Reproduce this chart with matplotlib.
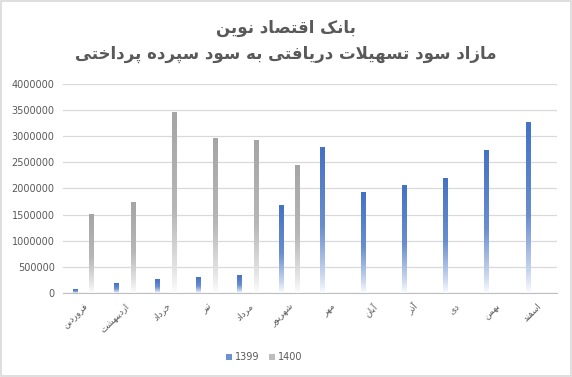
import matplotlib
matplotlib.use('Agg')
import matplotlib.pyplot as plt
import matplotlib.colors as mcolors
from matplotlib.patches import Rectangle
import numpy as np

# Persian month labels and yearly values
months = ['فروردین', 'اردیبهشت', 'خرداد', 'تیر', 'مرداد', 'شهریور',
          'مهر', 'آبان', 'آذر', 'دی', 'بهمن', 'اسفند']
values_1399 = [60000, 180000, 250000, 290000, 330000, 1670000,
               2780000, 1920000, 2050000, 2200000, 2720000, 3270000]
values_1400 = [1500000, 1730000, 3465000, 2950000, 2930000, 2450000,
               0, 0, 0, 0, 0, 0]
series_names = ['1399', '1400']
title_line1 = 'بانک اقتصاد نوین'
title_line2 = 'مازاد سود تسهیلات دریافتی به سود سپرده پرداختی'

# minimal Arabic/Persian shaping (matplotlib has no complex text layout)
# forms: isolated, final, initial, medial
FORMS = {
    'ا': (0xFE8D, 0xFE8E), 'آ': (0xFE81, 0xFE82),
    'ب': (0xFE8F, 0xFE90, 0xFE91, 0xFE92), 'پ': (0xFB56, 0xFB57, 0xFB58, 0xFB59),
    'ت': (0xFE95, 0xFE96, 0xFE97, 0xFE98), 'ث': (0xFE99, 0xFE9A, 0xFE9B, 0xFE9C),
    'ج': (0xFE9D, 0xFE9E, 0xFE9F, 0xFEA0), 'ح': (0xFEA1, 0xFEA2, 0xFEA3, 0xFEA4),
    'خ': (0xFEA5, 0xFEA6, 0xFEA7, 0xFEA8),
    'د': (0xFEA9, 0xFEAA), 'ذ': (0xFEAB, 0xFEAC), 'ر': (0xFEAD, 0xFEAE),
    'ز': (0xFEAF, 0xFEB0), 'ژ': (0xFB8A, 0xFB8B),
    'س': (0xFEB1, 0xFEB2, 0xFEB3, 0xFEB4), 'ش': (0xFEB5, 0xFEB6, 0xFEB7, 0xFEB8),
    'ص': (0xFEB9, 0xFEBA, 0xFEBB, 0xFEBC), 'ض': (0xFEBD, 0xFEBE, 0xFEBF, 0xFEC0),
    'ط': (0xFEC1, 0xFEC2, 0xFEC3, 0xFEC4), 'ظ': (0xFEC5, 0xFEC6, 0xFEC7, 0xFEC8),
    'ع': (0xFEC9, 0xFECA, 0xFECB, 0xFECC), 'غ': (0xFECD, 0xFECE, 0xFECF, 0xFED0),
    'ف': (0xFED1, 0xFED2, 0xFED3, 0xFED4), 'ق': (0xFED5, 0xFED6, 0xFED7, 0xFED8),
    'ک': (0xFB8E, 0xFB8F, 0xFB90, 0xFB91), 'گ': (0xFB92, 0xFB93, 0xFB94, 0xFB95),
    'ل': (0xFEDD, 0xFEDE, 0xFEDF, 0xFEE0), 'م': (0xFEE1, 0xFEE2, 0xFEE3, 0xFEE4),
    'ن': (0xFEE5, 0xFEE6, 0xFEE7, 0xFEE8), 'ه': (0xFEE9, 0xFEEA, 0xFEEB, 0xFEEC),
    'و': (0xFEED, 0xFEEE), 'ی': (0xFBFC, 0xFBFD, 0xFBFE, 0xFBFF),
}


def shape(text):
    # merge lam + alef into ligature placeholder
    chars = []
    i = 0
    while i < len(text):
        if text[i] == 'ل' and i + 1 < len(text) and text[i + 1] == 'ا':
            chars.append('LA')
            i += 2
        else:
            chars.append(text[i])
            i += 1

    def dual(c):
        return c in FORMS and len(FORMS[c]) == 4

    def joins(c):
        return c in FORMS or c == 'LA'

    out = []
    for k, c in enumerate(chars):
        prev = chars[k - 1] if k > 0 else None
        nxt = chars[k + 1] if k + 1 < len(chars) else None
        jp = prev is not None and dual(prev) and joins(c)
        if c == 'LA':
            out.append(chr(0xFEFC if jp else 0xFEFB))
            continue
        if c not in FORMS:
            out.append(c)
            continue
        f = FORMS[c]
        jn = dual(c) and nxt is not None and joins(nxt)
        if jp and jn:
            out.append(chr(f[3]))
        elif jp:
            out.append(chr(f[1]))
        elif jn:
            out.append(chr(f[2]))
        else:
            out.append(chr(f[0]))
    return ''.join(reversed(out))


plt.rcParams['font.family'] = ['DejaVu Sans']
text_color = '#595959'
colors = ['#4472C4', '#A5A5A5']

fig = plt.figure(figsize=(5.72, 3.77), dpi=100)
fig.patches.append(Rectangle((0.002, 0.003), 0.996, 0.994, transform=fig.transFigure,
                             fill=False, edgecolor='#D9D9D9', linewidth=1.2))
ax = fig.add_axes([0.110, 0.223, 0.864, 0.554])

index = np.arange(len(months))
bar_width = 0.12
offset = 0.205
series = [values_1399, values_1400]

# gradient: white at the bottom to solid at the top
grad_pos = [0.0, 0.12, 0.45, 1.0]
grad_mix = [0.03, 0.28, 0.8, 1.0]
ny = 200
mix = np.interp(np.linspace(0, 1, ny), grad_pos, grad_mix)

for s, (vals, col) in enumerate(zip(series, colors)):
    pos = index - offset if s == 0 else index + offset
    bars = ax.bar(pos, vals, bar_width, color='none', edgecolor='none',
                  label=series_names[s])
    rgb = np.array(mcolors.to_rgb(col))
    img = (1 - mix[:, None]) * np.ones(3) + mix[:, None] * rgb
    img = img[:, None, :]
    for b in bars:
        h = b.get_height()
        if h <= 0:
            continue
        ax.imshow(img, extent=(b.get_x(), b.get_x() + b.get_width(), 0, h),
                  origin='lower', aspect='auto', interpolation='bilinear', zorder=3)

ax.set_xlim(-0.5, len(months) - 0.5)
ax.set_ylim(0, 4000000)
ax.set_yticks(np.arange(0, 4000001, 500000))
ax.set_yticklabels([str(v) for v in range(0, 4000001, 500000)])
ax.set_xticks(index)
ax.set_xticklabels([shape(m) for m in months], rotation=45, ha='right',
                   rotation_mode='anchor', fontsize=6.5, color=text_color)
ax.tick_params(axis='y', length=0, labelsize=7, labelcolor=text_color, pad=6)
ax.tick_params(axis='x', length=0, pad=6)
ax.grid(True, axis='y', color='#D9D9D9', linewidth=0.9)
ax.set_axisbelow(True)
for side in ['top', 'right', 'left']:
    ax.spines[side].set_visible(False)
ax.spines['bottom'].set_color('#BFBFBF')

fig.text(0.5, 0.925, shape(title_line1), ha='center', va='center',
         fontsize=12, fontweight='bold', color=text_color)
fig.text(0.5, 0.856, shape(title_line2), ha='center', va='center',
         fontsize=12, fontweight='bold', color=text_color)

handles = [Rectangle((0, 0), 1, 1, facecolor=c, edgecolor='none') for c in ['#6F91CF', '#BDBDBD']]
fig.legend(handles, series_names, loc='center', bbox_to_anchor=(0.462, 0.053),
           ncol=2, frameon=False, fontsize=7, handlelength=0.6, handleheight=0.6,
           handletextpad=0.3, columnspacing=1.0, labelcolor=text_color)

fig.savefig('out.png', dpi=100)
